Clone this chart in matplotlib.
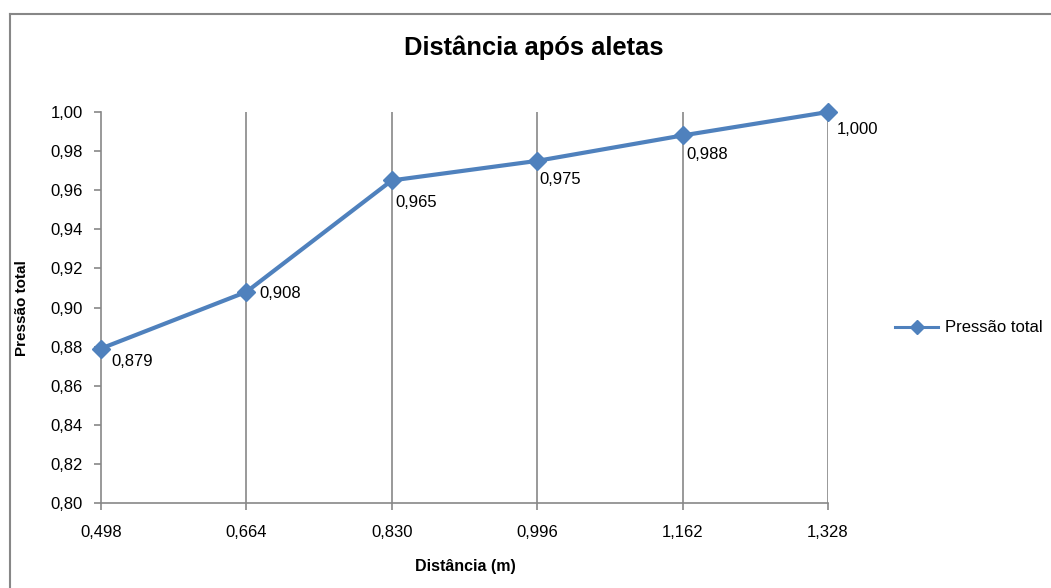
import matplotlib
matplotlib.use("Agg")
import matplotlib.pyplot as plt
from matplotlib.lines import Line2D

plt.rcParams['font.family'] = ['Liberation Sans', 'DejaVu Sans']

# Data
distancias = ["0,498", "0,664", "0,830", "0,996", "1,162", "1,328"]
pressao_total = [0.879, 0.908, 0.965, 0.975, 0.988, 1.000]
rotulos = ["0,879", "0,908", "0,965", "0,975", "0,988", "1,000"]
y_ticks = [0.80, 0.82, 0.84, 0.86, 0.88, 0.90, 0.92, 0.94, 0.96, 0.98, 1.00]

# Label offsets in pixels (dx, dy)
label_offsets = [(10, -13), (13, -2), (4, -22), (2, -19), (4, -19), (9, -18)]

blue = "#4F81BD"
grid_gray = "#878787"

fig = plt.figure(figsize=(10.51, 5.88), dpi=100)
ax = fig.add_axes([101 / 1051, 1 - 503 / 588, (828 - 101) / 1051, (503 - 112) / 588])

x = list(range(len(distancias)))
ax.plot(x, pressao_total, color=blue, linewidth=3.0, marker="D", markersize=9,
        markerfacecolor=blue, markeredgecolor=blue, label="Pressão total",
        zorder=3, clip_on=False)

for xi, yi, txt, (dx, dy) in zip(x, pressao_total, rotulos, label_offsets):
    ax.annotate(txt, (xi, yi), xytext=(dx, dy), textcoords="offset pixels",
                ha="left", va="center", fontsize=12, color="black", zorder=4)

ax.set_xlim(0, len(distancias) - 1)
ax.set_ylim(0.80, 1.00)
ax.set_xticks(x)
ax.set_xticklabels(distancias, fontsize=12)
ax.set_yticks(y_ticks)
ax.set_yticklabels([f"{v:.2f}".replace(".", ",") for v in y_ticks], fontsize=12)

for xi in x[1:]:
    ax.axvline(xi, color=grid_gray, linewidth=1.2, zorder=1)

for side in ["top", "right"]:
    ax.spines[side].set_visible(False)
for side in ["left", "bottom"]:
    ax.spines[side].set_color(grid_gray)
    ax.spines[side].set_linewidth(1.2)

ax.tick_params(axis="both", color=grid_gray, width=1.2, length=5, direction="out")
ax.tick_params(axis="x", pad=11)
ax.tick_params(axis="y", pad=8)

fig.text(465 / 1051, 1 - 566 / 588, "Distância (m)", ha="center", va="center",
         fontsize=11.5, fontweight="bold")
fig.text(22 / 1051, 1 - 308 / 588, "Pressão total", ha="center", va="center",
         rotation=90, fontsize=11, fontweight="bold")

fig.text(534 / 1051, 1 - 48 / 588, "Distância após aletas", ha="center", va="center",
         fontsize=18.4, fontweight="bold")

leg = ax.legend(loc="center left", bbox_to_anchor=(895 / 1051, 1 - 328 / 588),
                bbox_transform=fig.transFigure, frameon=False, fontsize=12,
                handlelength=2.6, handletextpad=0.4, borderpad=0, borderaxespad=0)
for h in leg.get_lines():
    h.set_linewidth(2.2)
    h.set_markersize(7.5)

# Chart-area border
fig.add_artist(Line2D([10 / 1051, 10 / 1051], [0, 1 - 14 / 588], transform=fig.transFigure,
                      color=grid_gray, linewidth=1.5))
fig.add_artist(Line2D([10 / 1051, 1], [1 - 14 / 588, 1 - 14 / 588], transform=fig.transFigure,
                      color=grid_gray, linewidth=1.5))

fig.savefig("out.png", dpi=100)
